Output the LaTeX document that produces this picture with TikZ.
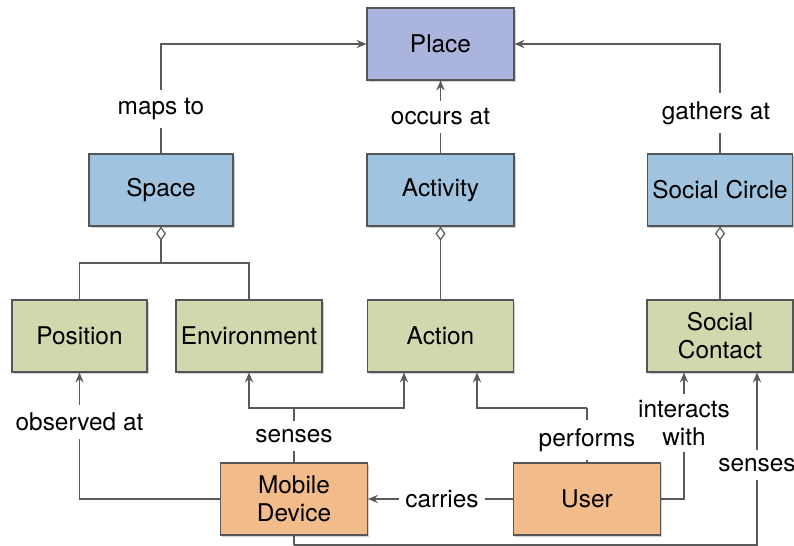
\documentclass[tikz,border=0pt]{standalone}
\usepackage{fontspec}
\setmainfont{TeX Gyre Heros}
\usetikzlibrary{arrows.meta,calc,shadows}
\definecolor{placefill}{RGB}{171,180,220}
\definecolor{groupfill}{RGB}{160,196,223}
\definecolor{partfill}{RGB}{209,216,174}
\definecolor{actorfill}{RGB}{242,188,138}
\definecolor{edge}{RGB}{90,90,90}
\definecolor{frame}{RGB}{85,85,85}
\pgfdeclarelayer{background}
\pgfsetlayers{background,main}
\tikzset{
  box/.style={draw=frame, line width=0.6pt, minimum height=36pt, align=center,
    inner sep=1pt,
    drop shadow={shadow xshift=0.8pt, shadow yshift=-0.8pt, opacity=0.18, fill=black}},
  placebox/.style={box, fill=placefill},
  groupbox/.style={box, fill=groupfill},
  partbox/.style={box, fill=partfill},
  actorbox/.style={box, fill=actorfill},
  lbl/.style={fill=white, inner xsep=2pt, inner ysep=4pt, align=center},
  link/.style={draw=edge, line width=0.6pt},
  arr/.style={link, -{Stealth[length=5pt, width=4.2pt, inset=1.8pt]}},
  agg/.style={link, {Diamond[open, length=7pt, width=5pt, line width=0.6pt]}-},
}
\begin{document}
\begin{tikzpicture}[x=0.5pt, y=-0.5pt, font=\fontsize{12.2}{14}\selectfont]
\useasboundingbox (0,0) rectangle (794,546);

% classes
\node[placebox, minimum width=73.5pt] (place)       at (440.5,44)  {Place};
\node[groupbox, minimum width=72pt]   (space)       at (161,190)   {Space};
\node[groupbox, minimum width=73.5pt] (activity)    at (440.5,190) {Activity};
\node[groupbox, minimum width=72.5pt] (circle)      at (720,190)   {Social Circle};
\node[partbox,  minimum width=67.5pt] (position)    at (79.5,336)  {Position};
\node[partbox,  minimum width=73pt]   (environment) at (249,336)   {Environment};
\node[partbox,  minimum width=73pt]   (action)      at (440.5,336) {Action};
\node[partbox,  minimum width=73pt]   (contact)     at (720,336)   {Social\\Contact};
\node[actorbox, minimum width=73.5pt] (mobile)      at (294,499)   {Mobile\\Device};
\node[actorbox, minimum width=73.5pt] (user)        at (587,499)   {User};

% relation labels
\node[lbl] (lmaps)     at (161,109)   {maps to};
\node[lbl] (loccurs)   at (440.5,117) {occurs at};
\node[lbl] (lgathers)  at (716,113)   {gathers at};
\node[lbl] (lobserved) at (79.5,422)  {observed at};
\node[lbl] (lsenses)   at (294,436)   {senses};
\node[lbl] (lperforms) at (587,440)   {performs};
\node[lbl, inner xsep=3pt] (lcarries) at (442,499) {carries};
\node[lbl, inner ysep=3pt] (linteracts) at (684,423) {interacts\\with};
\node[lbl] (lsenses2)  at (757,465)   {senses};

% junctions
\coordinate (split)   at (161,263);
\coordinate (sensejn) at (294,408);
\coordinate (perfjn)  at (587,408);
\coordinate (bottom)  at (294,545);

\begin{pgfonlayer}{background}
  % upper relations
  \draw[arr] (space.north) |- (place.west);
  \draw[arr] (activity.north) -- (place.south);
  \draw[arr] (circle.north) |- (place.east);
  % aggregations
  \draw[agg] (space.south) -- (split);
  \draw[link] (position.north) |- (split) -| (environment.north);
  \draw[agg] (activity.south) -- (action.north);
  \draw[agg] (circle.south) -- (contact.north);
  % lower relations
  \draw[arr] (mobile.west) -| (position.south);
  \draw[link] (mobile.north) -- (sensejn);
  \draw[arr] (sensejn) -| (environment.south);
  \draw[arr] (sensejn) -| ($(action.south)+(-36.5,0)$);
  \draw[link] (user.north) -- (perfjn);
  \draw[arr] (perfjn) -| ($(action.south)+(36.5,0)$);
  \draw[arr] (user.west) -- (mobile.east);
  \draw[arr] (user.east) -| ($(contact.south)+(-36,0)$);
  \draw[link] (mobile.south) -- (bottom);
  \draw[arr] (bottom) -| ($(contact.south)+(37,0)$);
\end{pgfonlayer}
\end{tikzpicture}
\end{document}
